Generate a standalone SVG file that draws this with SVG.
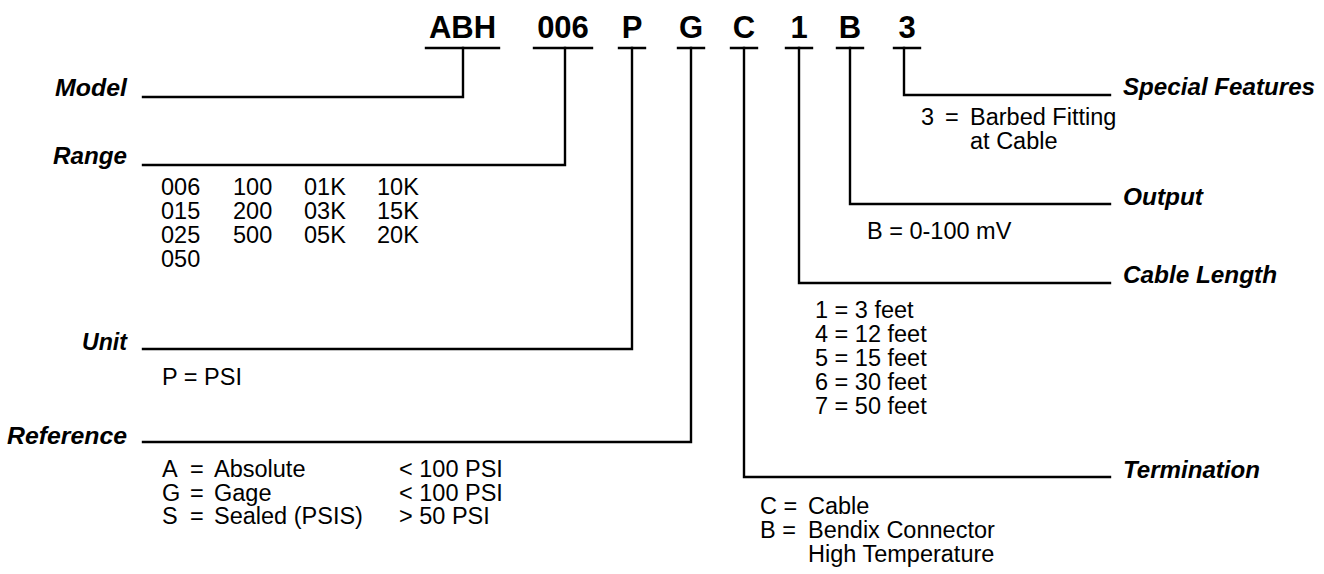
<svg xmlns="http://www.w3.org/2000/svg" width="1324" height="574" viewBox="0 0 1324 574">
<style>
.code{font-family:"Liberation Sans",Arial,sans-serif;font-weight:bold;font-size:31px;fill:#000;text-anchor:middle}
.lbl{font-family:"Liberation Sans",Arial,sans-serif;font-weight:bold;font-style:italic;font-size:23px;fill:#000}
.end{text-anchor:end}
.txt{font-family:"Liberation Sans",Arial,sans-serif;font-size:23.5px;fill:#000}
.ln{fill:none;stroke:#000;stroke-width:2.4;stroke-linecap:square}
</style>
<rect width="1324" height="574" fill="#fff"/>
<g id="code">
<text class="code" x="462.5" y="38">ABH</text>
<text class="code" x="563" y="38">006</text>
<text class="code" x="632" y="38">P</text>
<text class="code" x="691" y="38">G</text>
<text class="code" x="744" y="38">C</text>
<text class="code" x="799" y="38">1</text>
<text class="code" x="850" y="38">B</text>
<text class="code" x="907" y="38">3</text>
</g>
<g id="connectors">
<path class="ln" d="M426 48H499M534 48H592M619 48H645M678 48H704M731 48H757M786 48H812M837 48H863M894 48H920"/>
<path class="ln" d="M143 97H463V48"/>
<path class="ln" d="M143 165H565V48"/>
<path class="ln" d="M143 349H632V48"/>
<path class="ln" d="M143 442H691V48"/>
<path class="ln" d="M1110 477H744V48"/>
<path class="ln" d="M1110 283H799V48"/>
<path class="ln" d="M1110 204H850V48"/>
<path class="ln" d="M1110 95H904V48"/>
</g>
<g id="model">
<text class="lbl end" x="127" y="96" textLength="72" lengthAdjust="spacingAndGlyphs">Model</text>
</g>
<g id="range">
<text class="lbl end" x="127" y="164" textLength="74" lengthAdjust="spacingAndGlyphs">Range</text>
<text class="txt" y="195"><tspan x="161">006</tspan><tspan x="233">100</tspan><tspan x="304">01K</tspan><tspan x="377">10K</tspan></text>
<text class="txt" y="219"><tspan x="161">015</tspan><tspan x="233">200</tspan><tspan x="304">03K</tspan><tspan x="377">15K</tspan></text>
<text class="txt" y="243"><tspan x="161">025</tspan><tspan x="233">500</tspan><tspan x="304">05K</tspan><tspan x="377">20K</tspan></text>
<text class="txt" x="161" y="267">050</text>
</g>
<g id="unit">
<text class="lbl end" x="127" y="350" textLength="45" lengthAdjust="spacingAndGlyphs">Unit</text>
<text class="txt" x="162" y="385">P = PSI</text>
</g>
<g id="reference">
<text class="lbl end" x="127" y="444" textLength="120" lengthAdjust="spacingAndGlyphs">Reference</text>
<text class="txt" y="477"><tspan x="162">A</tspan><tspan x="190">=</tspan><tspan x="214">Absolute</tspan><tspan x="399">&lt; 100 PSI</tspan></text>
<text class="txt" y="500.5"><tspan x="162">G</tspan><tspan x="190">=</tspan><tspan x="214">Gage</tspan><tspan x="399">&lt; 100 PSI</tspan></text>
<text class="txt" y="524"><tspan x="162">S</tspan><tspan x="190">=</tspan><tspan x="214">Sealed (PSIS)</tspan><tspan x="399">&gt; 50 PSI</tspan></text>
</g>
<g id="special-features">
<text class="lbl" x="1123" y="95" textLength="192" lengthAdjust="spacingAndGlyphs">Special Features</text>
<text class="txt" y="125"><tspan x="921">3</tspan><tspan x="945">=</tspan><tspan x="970">Barbed Fitting</tspan></text>
<text class="txt" x="970" y="149">at Cable</text>
</g>
<g id="output">
<text class="lbl" x="1123" y="205" textLength="80" lengthAdjust="spacingAndGlyphs">Output</text>
<text class="txt" x="867" y="239">B = 0-100 mV</text>
</g>
<g id="cable-length">
<text class="lbl" x="1123" y="283" textLength="154" lengthAdjust="spacingAndGlyphs">Cable Length</text>
<text class="txt" x="815" y="318">1 = 3 feet</text>
<text class="txt" x="815" y="342">4 = 12 feet</text>
<text class="txt" x="815" y="366">5 = 15 feet</text>
<text class="txt" x="815" y="390">6 = 30 feet</text>
<text class="txt" x="815" y="414">7 = 50 feet</text>
</g>
<g id="termination">
<text class="lbl" x="1123" y="478" textLength="137" lengthAdjust="spacingAndGlyphs">Termination</text>
<text class="txt" y="514"><tspan x="760">C =</tspan><tspan x="808">Cable</tspan></text>
<text class="txt" y="538"><tspan x="760">B =</tspan><tspan x="808">Bendix Connector</tspan></text>
<text class="txt" x="808" y="562">High Temperature</text>
</g>
</svg>
